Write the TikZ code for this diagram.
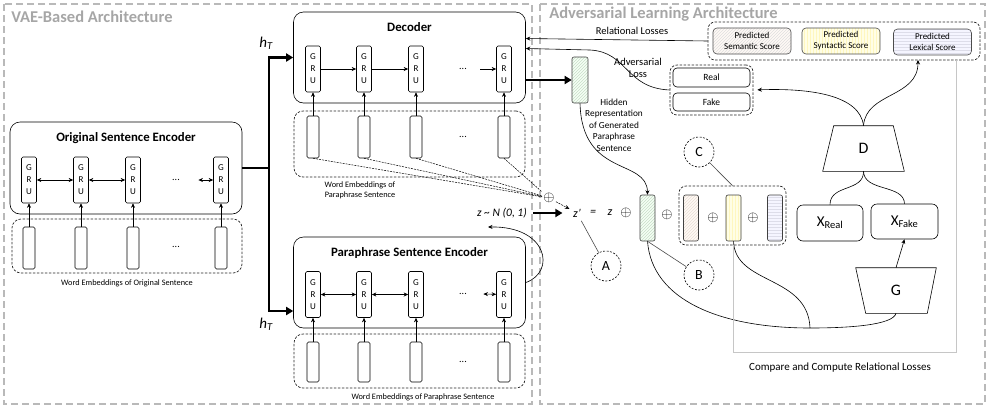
\documentclass[tikz,border=0pt]{standalone}
\usepackage{fontspec}
\setmainfont{Carlito}
\usepackage{tikz}
\usetikzlibrary{arrows.meta,patterns,positioning}
\tikzset{
    frame-box/.style = {draw=gray!55, line width=2.5pt, dash pattern=on 7pt off 4pt},
    frame-title/.style = {text=gray!70, font=\fontsize{16.5}{16.5}\selectfont\bfseries, anchor=west, inner sep=0pt},
    module-box/.style = {draw, rounded corners=10pt, minimum width=232pt, minimum height=91pt, inner sep=0pt},
    module-title/.style = {font=\fontsize{12.8}{13}\selectfont\bfseries},
    embed-frame/.style = {draw=black!85, line width=0.7pt, dash pattern=on 2.5pt off 1.5pt, rounded corners=9pt, minimum width=231pt, inner sep=0pt},
    gru-cell/.style = {draw, fill=white, rounded corners=1.5pt, minimum width=15pt, minimum height=46pt, inner sep=0pt, align=center, font=\fontsize{9}{12}\selectfont},
    embed-bar/.style = {draw, rounded corners=1.5pt, minimum width=12pt, minimum height=42pt, inner sep=0pt},
    small-label/.style = {font=\fontsize{8.3}{10}\selectfont, align=center},
    mid-label/.style = {font=\fontsize{10.5}{12.5}\selectfont, align=center},
    dot-row/.style = {font=\fontsize{10}{10}\selectfont},
    small-arrow/.style = {-{Stealth[length=4.5pt,width=4pt]}},
    both-arrow/.style = {{Stealth[length=4.5pt,width=4pt]}-{Stealth[length=4.5pt,width=4pt]}},
    thick-arrow/.style = {line width=2.8pt, -{Triangle[length=7pt,width=8pt]}},
    feed-line/.style = {line width=0.5pt, dash pattern=on 2pt off 1pt},
    plus-sign/.style = {font=\fontsize{15}{15}\selectfont, inner sep=1pt},
    formula/.style = {font=\fontsize{12}{12}\selectfont\itshape},
    tag-circle/.style = {draw, dash pattern=on 2pt off 1.5pt, circle, minimum size=30pt, inner sep=0pt, font=\fontsize{14}{14}\selectfont},
    hatch-bar/.style = {draw=black!75, rounded corners=2pt, minimum width=15pt, minimum height=46pt, inner sep=0pt},
    green-hatch/.style = {preaction={fill=green!4}, pattern=north east lines, pattern color=green!25!gray!35},
    orange-hatch/.style = {preaction={fill=orange!4}, pattern=north east lines, pattern color=orange!30!gray!25},
    yellow-hatch/.style = {preaction={fill=yellow!10}, pattern=vertical lines, pattern color=orange!25!yellow!25},
    blue-hatch/.style = {preaction={fill=blue!4}, pattern=horizontal lines, pattern color=blue!20!gray!22},
    gray-hatch/.style = {preaction={fill=orange!4}, pattern=north east lines, pattern color=gray!25},
    group-box/.style = {draw=black!85, line width=0.7pt, dash pattern=on 2.5pt off 1.5pt, rounded corners=7pt, inner sep=0pt},
    label-box/.style = {draw, rounded corners=4pt, inner sep=0pt, font=\fontsize{9.5}{11}\selectfont},
    score-box/.style = {draw=black!70, rounded corners=4pt, minimum width=78pt, minimum height=26pt, inner sep=0pt, align=center, font=\fontsize{9}{11}\selectfont},
    gan-box/.style = {draw, rounded corners=6pt, inner sep=0pt, font=\fontsize{15}{15}\selectfont},
    gan-shape/.style = {minimum height=45pt, inner sep=0pt, font=\fontsize{16}{16}\selectfont},
    ht-label/.style = {font=\fontsize{15}{15}\selectfont\itshape},
    compare-line/.style = {draw=gray!45, line width=0.8pt},
}
\begin{document}
\begin{tikzpicture}[x=1pt, y=-1pt, line width=0.6pt]
\useasboundingbox (0,0) rectangle (992,408);

\draw[frame-box] (4,4) rectangle (532,404);
\draw[frame-box] (540,4) rectangle (985,404);
\node[frame-title] (vae-title) at (11,17) {VAE-Based Architecture};
\node[frame-title] (adv-title) at (549,14) {Adversarial Learning Architecture};

\node[module-box, minimum height=92pt] (orig-enc) at (126,168) {};
\node[module-title, below=7pt] (orig-title) at (orig-enc.north) {Original Sentence Encoder};
\node[embed-frame, minimum width=230pt, minimum height=54pt] (orig-emb) at (127,246) {};
\node[small-label, below=3pt] (orig-emb-label) at (orig-emb.south) {Word Embeddings of Original Sentence};
\foreach \i/\x in {1/29,2/81,3/133,4/221} {
    \node[gru-cell] (orig-gru\i) at (\x,180) {G\\R\\U};
    \node[embed-bar] (orig-vec\i) at (\x,248) {};
    \draw[small-arrow] (orig-vec\i) -- (orig-gru\i);
}
\node[dot-row] (orig-dots) at (176,180) {...};
\node[dot-row] (orig-vec-dots) at (176,247) {...};
\draw[both-arrow] (orig-gru1) -- (orig-gru2);
\draw[both-arrow] (orig-gru2) -- (orig-gru3);
\draw[both-arrow] ([xshift=15pt]orig-dots.east) -- (orig-gru4);

\node[module-box] (decoder) at (409.5,57.5) {};
\node[module-title, below=7pt] (dec-title) at (decoder.north) {Decoder};
\node[embed-frame, minimum height=66pt] (dec-emb) at (409.5,144) {};
\node[small-label] (dec-emb-label) at (360,190) {Word Embeddings of\\Paraphrase Sentence};
\foreach \i/\x in {1/313,2/364,3/416,4/504} {
    \node[gru-cell] (dec-gru\i) at (\x,69) {G\\R\\U};
    \node[embed-bar] (dec-vec\i) at (\x,137) {};
    \draw[small-arrow] (dec-vec\i) -- (dec-gru\i);
}
\node[dot-row] (dec-dots) at (463,69) {...};
\node[dot-row] (dec-vec-dots) at (463,137) {...};
\draw[small-arrow] (dec-gru1) -- (dec-gru2);
\draw[small-arrow] (dec-gru2) -- (dec-gru3);
\draw[small-arrow] ([xshift=10pt]dec-dots.east) -- (dec-gru4);

\node[module-box] (para-enc) at (409.5,282.5) {};
\node[module-title, below=7pt] (para-title) at (para-enc.north) {Paraphrase Sentence Encoder};
\node[embed-frame, minimum height=54pt] (para-emb) at (409.5,361) {};
\node[small-label] (para-emb-label) at (423,397) {Word Embeddings of Paraphrase Sentence};
\foreach \i/\x in {1/313,2/364,3/416,4/504} {
    \node[gru-cell] (para-gru\i) at (\x,294.5) {G\\R\\U};
    \node[embed-bar, minimum height=40pt] (para-vec\i) at (\x,362) {};
    \draw[small-arrow] (para-vec\i) -- (para-gru\i);
}
\node[dot-row] (para-dots) at (463,294) {...};
\node[dot-row] (para-vec-dots) at (463,362) {...};
\draw[both-arrow] (para-gru1) -- (para-gru2);
\draw[both-arrow] (para-gru2) -- (para-gru3);
\draw[both-arrow] ([xshift=13pt]para-dots.east) -- (para-gru4);

\node[ht-label] (ht-dec) at (266,43) {h\textsubscript{T}};
\node[ht-label] (ht-para) at (266,324) {h\textsubscript{T}};
\coordinate (branch) at (269,168);
\draw[thick-arrow] (orig-enc.east) -- (branch) |- (decoder.west);
\draw[thick-arrow] (branch) |- ([yshift=-28.5pt]para-enc.west);

\node[plus-sign] (plus-emb) at (549,198) {$\oplus$};
\foreach \i in {1,...,4} {
    \draw[feed-line] (dec-vec\i.south) -- (plus-emb);
}
\node[font=\fontsize{11.5}{12}\selectfont\itshape] (z-noise) at (502,213) {z \textasciitilde{} N (0, 1)};
\coordinate (noise-in) at (488,227);
\draw[small-arrow] (para-enc.east) .. controls (556,272) and (548,226) .. (noise-in);

\node[formula] (z-prime) at (577,213) {z'};
\node[formula] (equals) at (593,213) {=};
\node[formula] (z-term) at (610,213) {z};
\node[plus-sign] (plus-z) at (626,213) {$\oplus$};
\node[hatch-bar, green-hatch] (z-bar) at (647.5,218) {};
\node[plus-sign] (plus-c) at (667,215) {$\oplus$};
\node[group-box, minimum width=107pt, minimum height=59pt] (c-group) at (732.5,215.5) {};
\node[hatch-bar, orange-hatch] (sem-bar) at (691,218) {};
\node[plus-sign] (plus-c1) at (713,218) {$\oplus$};
\node[hatch-bar, yellow-hatch] (syn-bar) at (733.5,218) {};
\node[plus-sign] (plus-c2) at (753,218) {$\oplus$};
\node[hatch-bar, blue-hatch] (lex-bar) at (775,218) {};
\draw[thick-arrow, shorten <=3pt, shorten >=7pt] (z-noise.east) -- (z-prime.west);
\draw[small-arrow, feed-line] (plus-emb) -- (z-prime);

\node[tag-circle] (tag-a) at (606,266) {A};
\node[tag-circle] (tag-b) at (699,275) {B};
\node[tag-circle] (tag-c) at (699,152) {C};
\draw[black!70] (tag-a) -- (z-prime);
\draw[black!70] (tag-b) -- (z-bar.south);
\draw[black!70] (tag-c) -- (c-group.north);

\node[hatch-bar, green-hatch, minimum width=16pt] (hidden-bar) at (580,80) {};
\draw[thick-arrow] (decoder.east |- hidden-bar.west) -- (hidden-bar.west);
\node[small-label, font=\fontsize{9.3}{11.5}\selectfont] (hidden-label) at (614,125) {Hidden\\Representation\\of Generated\\Paraphrase\\Sentence};
\draw[small-arrow] (hidden-bar.south) .. controls (582,178) and (647,158) .. (z-bar.north);

\node[group-box, minimum width=83pt, minimum height=50pt] (rf-group) at (711.5,90) {};
\node[label-box, minimum width=77pt, minimum height=19pt] (real-box) at (711.5,77.5) {Real};
\node[label-box, minimum width=77pt, minimum height=18pt] (fake-box) at (711.5,102) {Fake};

\node[group-box, minimum width=272pt, minimum height=38pt] (score-group) at (844,41) {};
\node[score-box, gray-hatch] (sem-score) at (752,41) {Predicted\\Semantic Score};
\node[score-box, yellow-hatch] (syn-score) at (841,41) {Predicted\\Syntactic Score};
\node[score-box, blue-hatch] (lex-score) at (932.5,42) {Predicted\\Lexical Score};

\draw[small-arrow] (score-group.west) -- ([yshift=19pt]decoder.east);
\node[mid-label] (rel-label) at (632,31) {Relational Losses};
\draw[small-arrow] (rf-group.west) .. controls (625,88) and (628,52) .. (590,50) -- ([yshift=9pt]decoder.east);
\node[mid-label] (adv-label) at (638,68) {Adversarial\\Loss};

\node[gan-shape, minimum width=81pt] (disc) at (863.5,148.5) {D};
\draw (disc.south west) -- (disc.south east) -- ([xshift=-11pt]disc.north east) -- ([xshift=11pt]disc.north west) -- cycle;
\node[gan-shape, minimum width=80pt] (gen) at (896,290.5) {G};
\draw (gen.north west) -- (gen.north east) -- ([xshift=-9pt]gen.south east) -- ([xshift=10pt]gen.south west) -- cycle;
\node[gan-box, minimum width=66pt, minimum height=36pt] (x-real) at (830,223) {X\textsubscript{Real}};
\node[gan-box, minimum width=67pt, minimum height=35pt] (x-fake) at (904.5,221.5) {X\textsubscript{Fake}};
\draw (disc.south) .. controls (864,192) and (830,184) .. (x-real.north);
\draw (disc.south) .. controls (864,192) and (904,184) .. (x-fake.north);
\draw[small-arrow] (gen.north) -- (x-fake.south);
\draw[small-arrow, shorten >=4pt] (disc.north) .. controls (860,95) and (810,88) .. (rf-group.east);
\coordinate (lex-in) at (918,60);
\draw[small-arrow] (disc.north) .. controls (866,92) and (918,98) .. (lex-in);

\coordinate (merge) at (810,328);
\draw (z-bar.south) .. controls (652,300) and (720,328) .. (merge) .. controls (850,328) and (893,325) .. (gen.south);
\draw (syn-bar.south) .. controls (735,285) and (808,275) .. (merge);

\coordinate (cmp-corner) at (956,352);
\draw[compare-line] (c-group.south -| syn-bar.south) |- (cmp-corner) -- (cmp-corner |- score-group.south);
\node[mid-label, font=\fontsize{11}{12}\selectfont] (cmp-label) at (840,368) {Compare and Compute Relational Losses};
\end{tikzpicture}
\end{document}
